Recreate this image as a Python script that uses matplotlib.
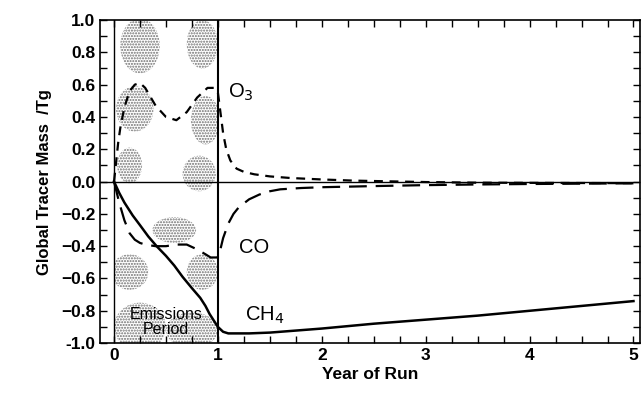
import matplotlib
matplotlib.use("Agg")
import matplotlib.pyplot as plt
from matplotlib.patches import Ellipse, Rectangle
from matplotlib.ticker import MultipleLocator

plt.rcParams["font.family"] = ["Liberation Sans", "DejaVu Sans"]

# O3 (short dashes)
annee_o3 = [0.0, 0.02, 0.04, 0.06, 0.1, 0.15, 0.2, 0.25, 0.3, 0.4, 0.5, 0.6, 0.7,
            0.8, 0.9, 0.96, 1.0, 1.02, 1.05, 1.08, 1.12, 1.18, 1.25, 1.35, 1.5,
            1.7, 2.0, 2.3, 2.6, 3.0, 3.5, 4.0, 4.5, 5.0]
masse_o3 = [0.0, 0.12, 0.24, 0.33, 0.46, 0.56, 0.6, 0.61, 0.58, 0.47, 0.4, 0.38, 0.43,
            0.52, 0.58, 0.58, 0.55, 0.45, 0.3, 0.2, 0.13, 0.08, 0.06, 0.045, 0.032,
            0.022, 0.013, 0.006, 0.002, -0.003, -0.007, -0.008, -0.009, -0.01]

# CO (long dashes)
annee_co = [0.0, 0.05, 0.1, 0.15, 0.2, 0.25, 0.3, 0.4, 0.5, 0.6, 0.7, 0.8, 0.88,
            0.93, 1.0, 1.0, 1.02, 1.05, 1.1, 1.15, 1.2, 1.3, 1.4, 1.5, 1.6, 1.8,
            2.0, 2.5, 3.0, 3.5, 4.0, 4.5, 5.0]
masse_co = [0.0, -0.13, -0.24, -0.32, -0.36, -0.38, -0.39, -0.4, -0.4, -0.39, -0.39, -0.42, -0.45,
            -0.47, -0.47, -0.46, -0.43, -0.35, -0.26, -0.2, -0.16, -0.11, -0.08, -0.06, -0.048, -0.04,
            -0.035, -0.028, -0.022, -0.018, -0.015, -0.013, -0.011]

# CH4 (solid)
annee_ch4 = [0.0, 0.05, 0.1, 0.18, 0.25, 0.33, 0.41, 0.5, 0.58, 0.66, 0.75, 0.83,
             0.88, 0.92, 0.96, 1.0, 1.05, 1.1, 1.3, 1.5, 1.8, 2.0, 2.5, 3.0, 3.5,
             4.0, 4.5, 5.0]
masse_ch4 = [0.0, -0.07, -0.13, -0.21, -0.27, -0.34, -0.4, -0.46, -0.52, -0.59, -0.66, -0.72,
             -0.77, -0.82, -0.86, -0.9, -0.93, -0.94, -0.94, -0.935, -0.92, -0.91, -0.88, -0.855, -0.83,
             -0.8, -0.77, -0.74]

# taches grises de la periode d'emissions (x, y, largeur, hauteur)
taches = [
    (0.25, 0.84, 0.38, 0.34), (0.85, 0.85, 0.3, 0.3), (0.2, 0.45, 0.36, 0.28),
    (0.88, 0.38, 0.28, 0.3), (0.15, 0.1, 0.24, 0.22), (0.82, 0.05, 0.32, 0.22),
    (0.58, -0.3, 0.42, 0.16), (0.15, -0.56, 0.36, 0.22), (0.85, -0.56, 0.3, 0.22),
    (0.25, -0.9, 0.5, 0.3), (0.75, -0.92, 0.5, 0.22),
]


def tracer():
    fig = plt.figure(figsize=(6.41, 3.93), dpi=100)
    ax = fig.add_axes([0.156, 0.127, 0.842, 0.822])

    zone = Rectangle((0, -1), 1, 2, transform=ax.transData)
    for x, y, w, h in taches:
        e = Ellipse((x, y), w, h, facecolor="none", edgecolor="#6e6e6e",
                    hatch="......", linewidth=0, zorder=1)
        ax.add_patch(e)
        e.set_clip_path(zone)

    ax.axhline(0, color="black", linewidth=1.0, zorder=2)
    ax.axvline(0, color="black", linewidth=1.0, zorder=2)
    ax.axvline(1, color="black", linewidth=1.5, zorder=2)

    ax.plot(annee_o3, masse_o3, color="black", linewidth=1.6,
            dashes=(4, 3), zorder=3)
    ax.plot(annee_co, masse_co, color="black", linewidth=1.6,
            dashes=(8, 4), zorder=3)
    ax.plot(annee_ch4, masse_ch4, color="black", linewidth=1.8, zorder=3)

    ax.text(1.1, 0.55, r"O$_3$", fontsize=14.5, va="center")
    ax.text(1.2, -0.41, "CO", fontsize=14.5, va="center")
    ax.text(1.26, -0.83, r"CH$_4$", fontsize=14.5, va="center")
    ax.text(0.5, -0.87, "Emissions\nPeriod", fontsize=11.5, ha="center",
            va="center", linespacing=0.95, zorder=4)

    ax.set_xlim(-0.135, 5.06)
    ax.set_ylim(-1.0, 1.0)
    ax.xaxis.set_major_locator(MultipleLocator(1))
    ax.xaxis.set_minor_locator(MultipleLocator(0.25))
    ax.yaxis.set_major_locator(MultipleLocator(0.2))
    ax.yaxis.set_minor_locator(MultipleLocator(0.1))
    ax.tick_params(which="both", direction="in", top=True, right=True,
                   labelsize=12.5, width=1.0)
    ax.tick_params(which="major", length=5)
    ax.tick_params(which="minor", length=5)
    ax.set_xticks([0, 1, 2, 3, 4, 5])
    ax.set_yticks([1.0, 0.8, 0.6, 0.4, 0.2, 0.0, -0.2, -0.4, -0.6, -0.8, -1.0])
    ax.set_yticklabels(["1.0", "0.8", "0.6", "0.4", "0.2", "0.0",
                        "\u22120.2", "\u22120.4", "\u22120.6", "\u22120.8", "-1.0"])
    for lab in ax.get_xticklabels() + ax.get_yticklabels():
        lab.set_fontweight("bold")
    for s in ax.spines.values():
        s.set_linewidth(1.2)

    ax.set_xlabel("Year of Run", fontsize=12.5, fontweight="bold", labelpad=3)
    ax.set_ylabel("Global Tracer Mass  /Tg", fontsize=12, fontweight="bold",
                  labelpad=6)

    fig.savefig("out.png", dpi=100)
    plt.close(fig)


if __name__ == "__main__":
    tracer()
